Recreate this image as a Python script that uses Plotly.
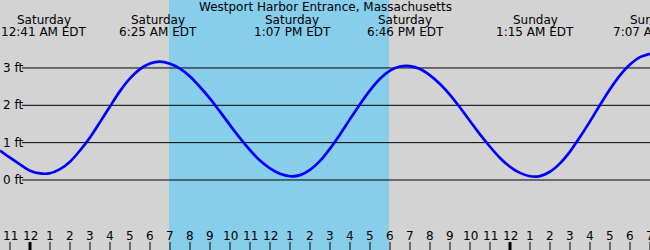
import plotly.graph_objects as go

# Hours since Saturday 00:00 EDT and tide height (ft) (every half hour)
hours = [-1.5, -1, -0.5, 0, 0.5, 1, 1.5, 2, 2.5, 3, 3.5, 4, 4.5, 5, 5.5, 6, 6.5, 7, 7.5, 8,
         8.5, 9, 9.5, 10, 10.5, 11, 11.5, 12, 12.5, 13, 13.5, 14, 14.5, 15, 15.5, 16, 16.5,
         17, 17.5, 18, 18.5, 19, 19.5, 20, 20.5, 21, 21.5, 22, 22.5, 23, 23.5, 24, 24.5, 25,
         25.5, 26, 26.5, 27, 27.5, 28, 28.5, 29, 29.5, 30, 30.5, 31]
heights = [0.79, 0.60, 0.42, 0.25, 0.175, 0.18, 0.29, 0.49, 0.79, 1.14, 1.55, 1.97, 2.38,
           2.72, 2.97, 3.12, 3.17, 3.11, 2.98, 2.77, 2.49, 2.18, 1.83, 1.47, 1.12, 0.80, 0.52,
           0.31, 0.165, 0.10, 0.13, 0.27, 0.51, 0.84, 1.22, 1.63, 2.03, 2.40, 2.71, 2.93, 3.04,
           3.05, 2.97, 2.80, 2.57, 2.28, 1.94, 1.58, 1.22, 0.89, 0.59, 0.355, 0.19, 0.10, 0.105,
           0.22, 0.445, 0.76, 1.15, 1.57, 2.01, 2.43, 2.80, 3.09, 3.29, 3.38]

# Extremes labels
extreme_hours = [0.68, 6.42, 13.12, 18.77, 25.25, 31.12]
extreme_days = ["Saturday", "Saturday", "Saturday", "Saturday", "Sunday", "Sunday"]
extreme_times = ["12:41 AM EDT", "6:25 AM EDT", "1:07 PM EDT", "6:46 PM EDT", "1:15 AM EDT", "7:07 AM EDT"]

# Daylight band
daylight_start = 6.95
daylight_end = 17.95

# Height gridlines
grid_levels = [0, 1, 2, 3]
grid_labels = ["0 ft", "1 ft", "2 ft", "3 ft"]

# Hour ticks
tick_hours = list(range(-1, 32))
tick_labels = ["11", "12", "1", "2", "3", "4", "5", "6", "7", "8", "9", "10", "11",
               "12", "1", "2", "3", "4", "5", "6", "7", "8", "9", "10", "11",
               "12", "1", "2", "3", "4", "5", "6", "7"]
midnight_hours = [0, 24]

title = "Westport Harbor Entrance, Massachusetts"

W, H = 650, 250
XR = [-1.5, 31]
YR = [-1.875, 4.82]
FONT = "DejaVu Sans"


def py(ypix):
    return 1 - ypix / H


def px(hour):
    # paper fraction of an hour on the x axis (used for labels that may sit past the range)
    return (hour - XR[0]) / (XR[1] - XR[0])


fig = go.Figure()
fig.add_trace(go.Scatter(x=hours, y=heights, mode="lines",
                         line=dict(color="#0000ff", width=2.7, shape="spline", smoothing=0.8),
                         hoverinfo="skip", showlegend=False))

shapes = []
shapes.append(dict(type="rect", xref="x", yref="paper", x0=daylight_start, x1=daylight_end,
                   y0=0, y1=1, fillcolor="#87ceeb", line=dict(width=0), layer="below"))
for lv in grid_levels:
    shapes.append(dict(type="line", xref="paper", yref="y", x0=22 / W, x1=1, y0=lv, y1=lv,
                       line=dict(color="black", width=1), layer="below"))
for h in tick_hours:
    w = 3 if h in midnight_hours else 1
    shapes.append(dict(type="line", xref="x", yref="paper", x0=h, x1=h, y0=0, y1=8 / H,
                       line=dict(color="black", width=w), layer="above"))

ann = []
ann.append(dict(text=title, x=0.5, y=py(7), xref="paper", yref="paper", showarrow=False,
                xanchor="center", yanchor="middle", font=dict(family=FONT, size=12, color="black")))
for h, d, t in zip(extreme_hours, extreme_days, extreme_times):
    ann.append(dict(text=d, x=px(h), y=py(20.5), xref="paper", yref="paper", showarrow=False,
                    xanchor="center", yanchor="middle", borderpad=0,
                    font=dict(family=FONT, size=12, color="black")))
    ann.append(dict(text=t, x=px(h), y=py(31.5), xref="paper", yref="paper", showarrow=False,
                    xanchor="center", yanchor="middle", borderpad=0,
                    font=dict(family=FONT, size=12, color="black")))
for lv, lb in zip(grid_levels, grid_labels):
    ann.append(dict(text=lb, x=2 / W, y=lv, xref="paper", yref="y", showarrow=False,
                    xanchor="left", yanchor="middle", borderpad=0,
                    font=dict(family=FONT, size=12, color="black")))
for h, lb in zip(tick_hours, tick_labels):
    ann.append(dict(text=lb, x=h, y=py(236), xref="x", yref="paper", showarrow=False,
                    xanchor="center", yanchor="middle", borderpad=0,
                    font=dict(family=FONT, size=12, color="black")))

fig.update_layout(
    width=W, height=H, margin=dict(l=0, r=0, t=0, b=0),
    paper_bgcolor="#d3d3d3", plot_bgcolor="#d3d3d3",
    xaxis=dict(range=XR, visible=False, fixedrange=True),
    yaxis=dict(range=YR, visible=False, fixedrange=True),
    shapes=shapes, annotations=ann, showlegend=False,
)
fig.write_html("out.html")
